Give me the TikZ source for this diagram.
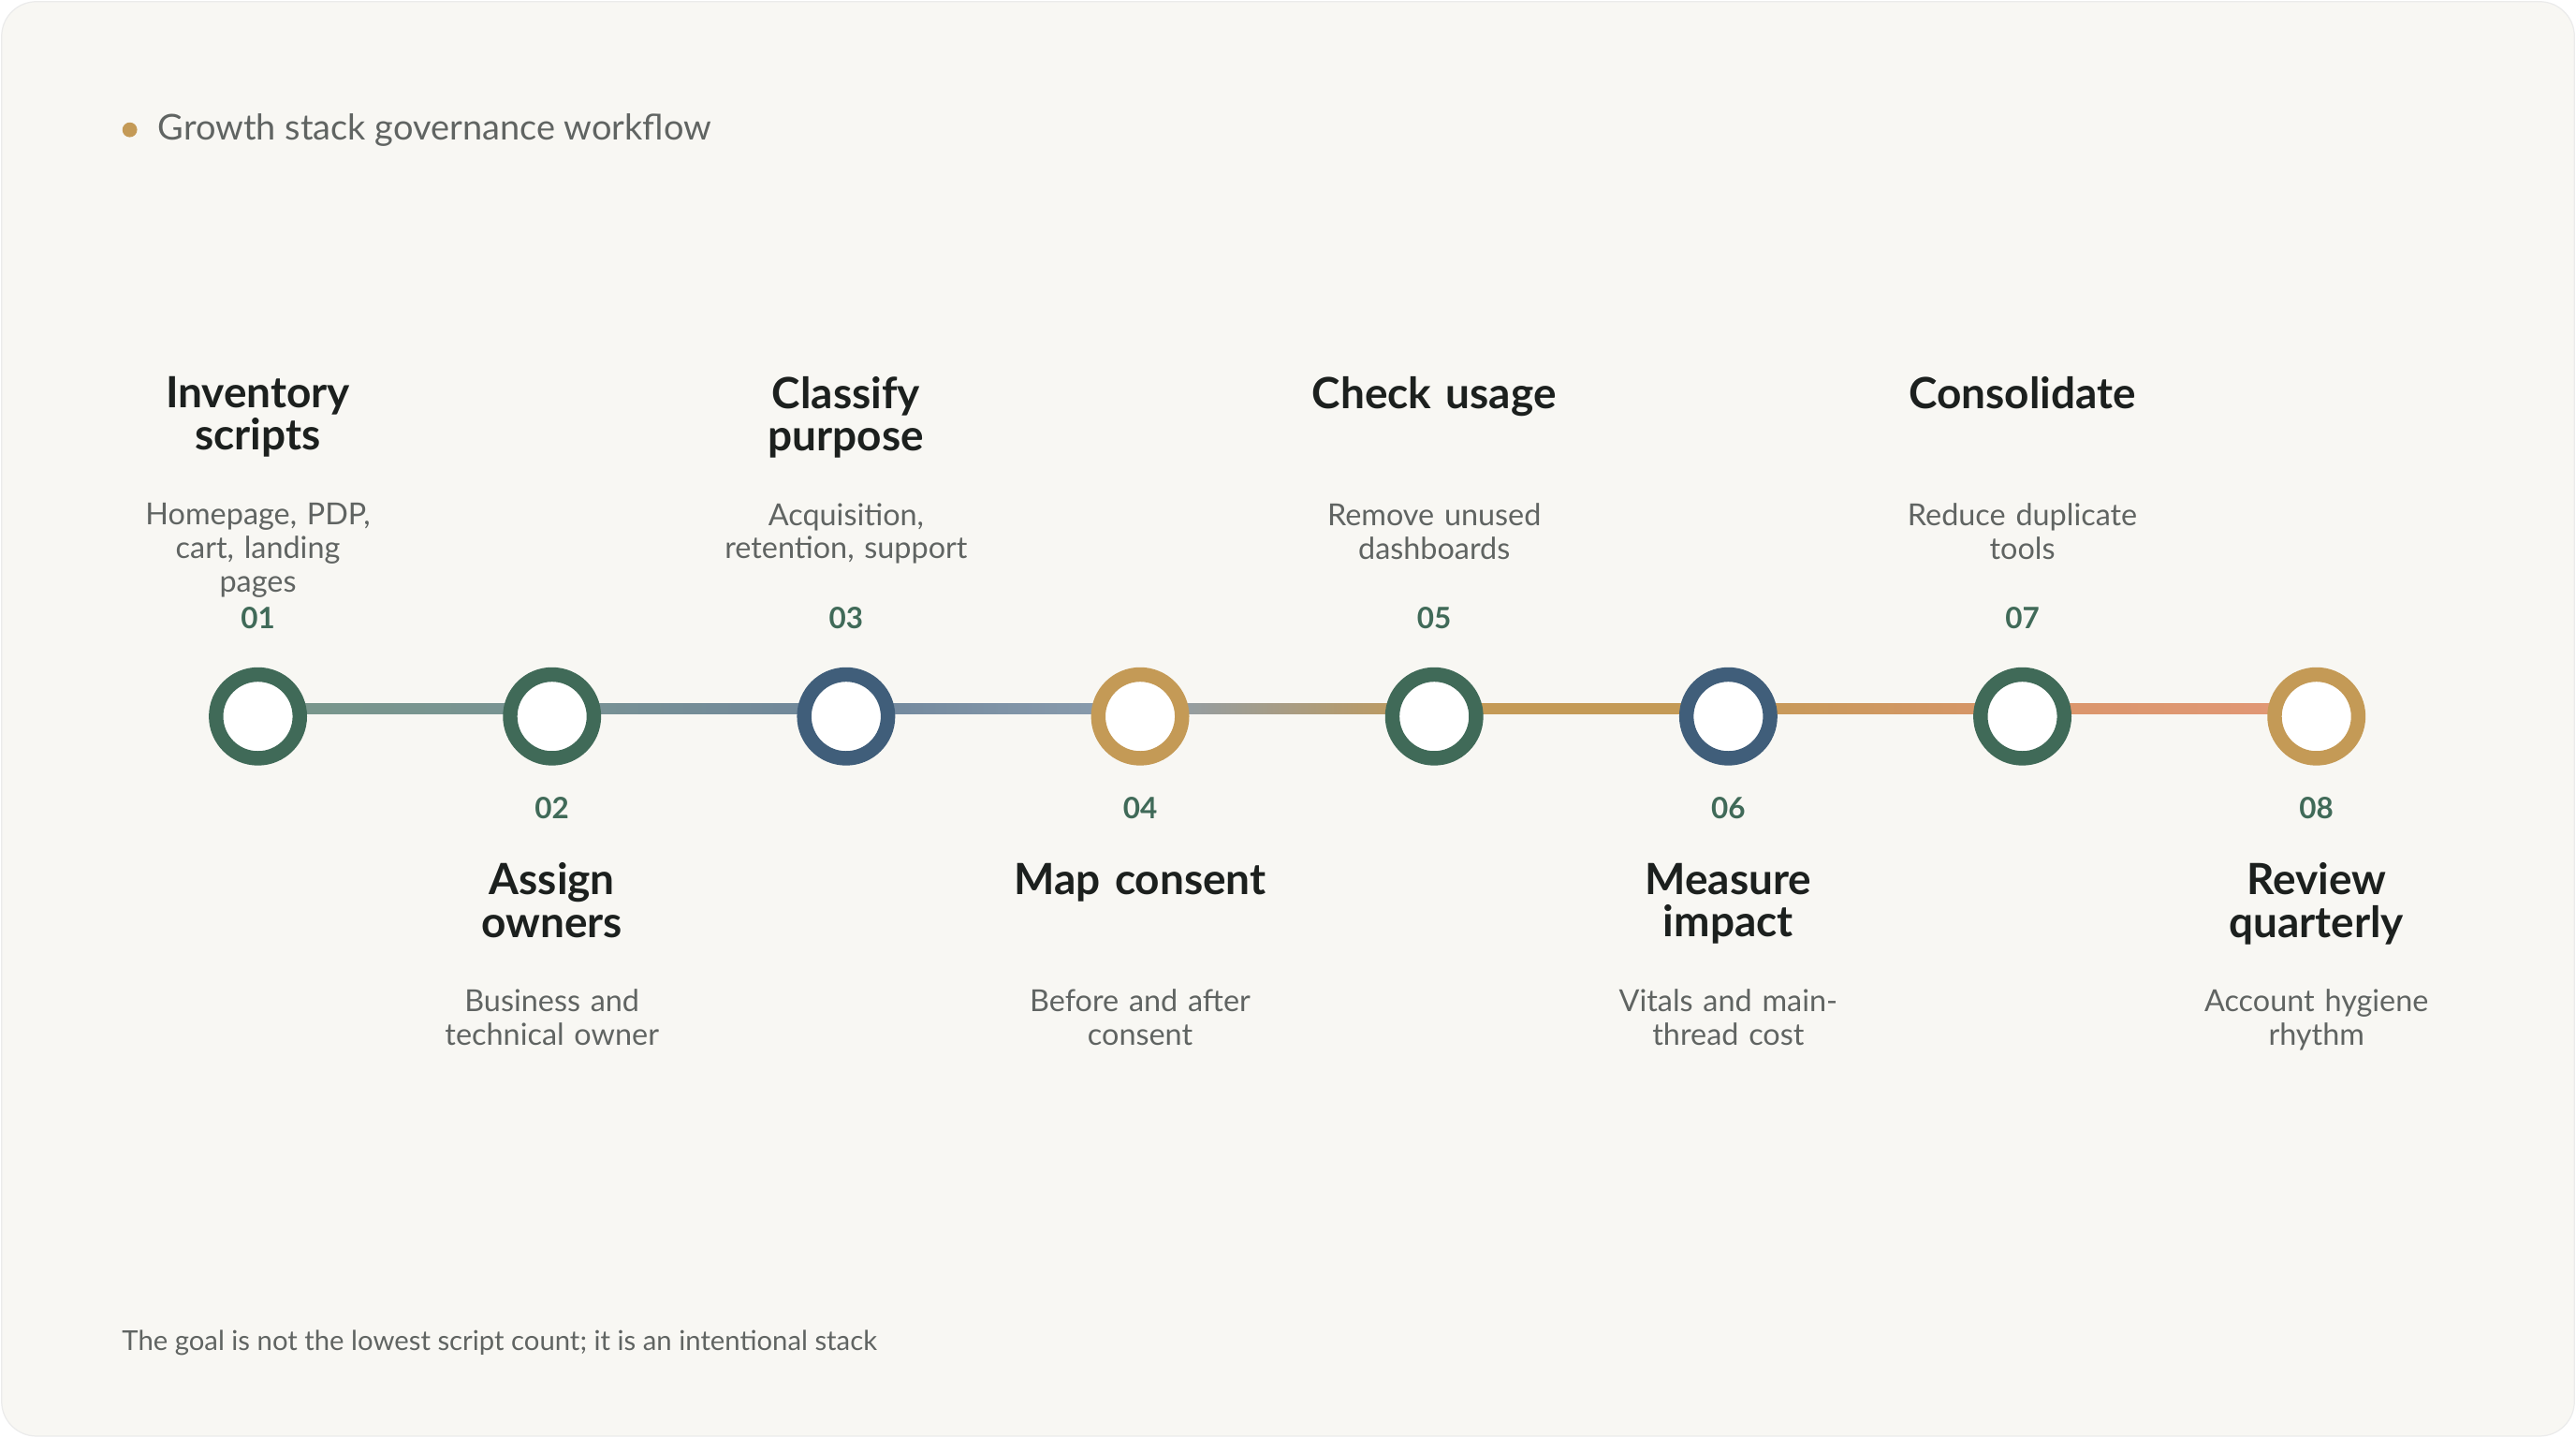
\documentclass[tikz,border=0pt]{standalone}
\usepackage{fontspec}
\setmainfont{Lato}
\definecolor{bgwarm}{RGB}{248, 247, 243}
\definecolor{ringgreen}{RGB}{64, 106, 88}
\definecolor{ringblue}{RGB}{64, 94, 122}
\definecolor{ringgold}{RGB}{196, 154, 86}
\definecolor{titlegray}{RGB}{28, 32, 30}
\definecolor{textgray}{RGB}{96, 100, 98}
\definecolor{numgreen}{RGB}{64, 106, 88}
\tikzset{
    ring/.style={circle, draw=#1, line width=5pt, fill=white, minimum size=1.02cm, inner sep=0pt},
    steptitle/.style={font=\fontsize{14.9}{14.7}\selectfont\bfseries, text=titlegray, align=center, text width=3.8cm},
    stepdesc/.style={font=\fontsize{10.5}{11.6}\selectfont, text=textgray, align=center, text width=3.6cm},
    stepnum/.style={font=\fontsize{10.2}{11}\selectfont\bfseries, text=numgreen}
}
\begin{document}
\begin{tikzpicture}[x=0.02cm, y=-0.02cm]
    \useasboundingbox (0,0) rectangle (1568,875);
    \fill[bgwarm, rounded corners=12pt, draw=black!8] (1,1) rectangle (1567,874);
    % header and footer
    \fill[ringgold] (79,79) circle (4.5);
    \node[anchor=west, font=\fontsize{12.3}{14}\selectfont, text=textgray] (header) at (90,79) {Growth stack governance workflow};
    \node[anchor=west, font=\fontsize{9.5}{11}\selectfont, text=textgray, inner sep=0pt] (footer) at (74,817) {The goal is not the lowest script count; it is an intentional stack};
    % connector segments
    \foreach \xa/\xb/\ca/\cb in {157/336/ringgreen!70/ringgreen!60!ringblue!70, 336/515/ringgreen!60!ringblue!70/ringblue!75, 515/694/ringblue!75/ringblue!60, 694/873/ringblue!60/ringgold, 873/1052/ringgold/ringgold, 1052/1231/ringgold/ringgold!80!red!80, 1231/1410/ringgold!80!red!80/ringgold!70!red!70}
        \shade[left color=\ca, right color=\cb] (\xa,428) rectangle (\xb,434.5);
    % rings
    \foreach \n/\x/\c in {1/157/ringgreen, 2/336/ringgreen, 3/515/ringblue, 4/694/ringgold, 5/873/ringgreen, 6/1052/ringblue, 7/1231/ringgreen, 8/1410/ringgold}
        \node[ring=\c] (s\n) at (\x,436) {};
    % upper labels
    \foreach \n/\x/\t/\d in {1/157/{Inventory\\scripts}/{Homepage, PDP,\\cart, landing\\pages}, 3/515/{Classify\\purpose}/{Acquisition,\\retention, support}, 5/873/{Check usage}/{Remove unused\\dashboards}, 7/1231/{Consolidate}/{Reduce duplicate\\tools}} {
        \node[steptitle, anchor=north] (t\n) at (\x,223) {\t};
        \node[stepdesc, anchor=north] (d\n) at (\x,300) {\d};
        \node[stepnum] (n\n) at (\x,376) {0\n};
    }
    % lower labels
    \foreach \n/\x/\t/\d in {2/336/{Assign\\owners}/{Business and\\technical owner}, 4/694/{Map consent}/{Before and after\\consent}, 6/1052/{Measure\\impact}/{Vitals and main-\\thread cost}, 8/1410/{Review\\quarterly}/{Account hygiene\\rhythm}} {
        \node[stepnum] (n\n) at (\x,492) {0\n};
        \node[steptitle, anchor=north] (t\n) at (\x,519) {\t};
        \node[stepdesc, anchor=north] (d\n) at (\x,596) {\d};
    }
\end{tikzpicture}
\end{document}
